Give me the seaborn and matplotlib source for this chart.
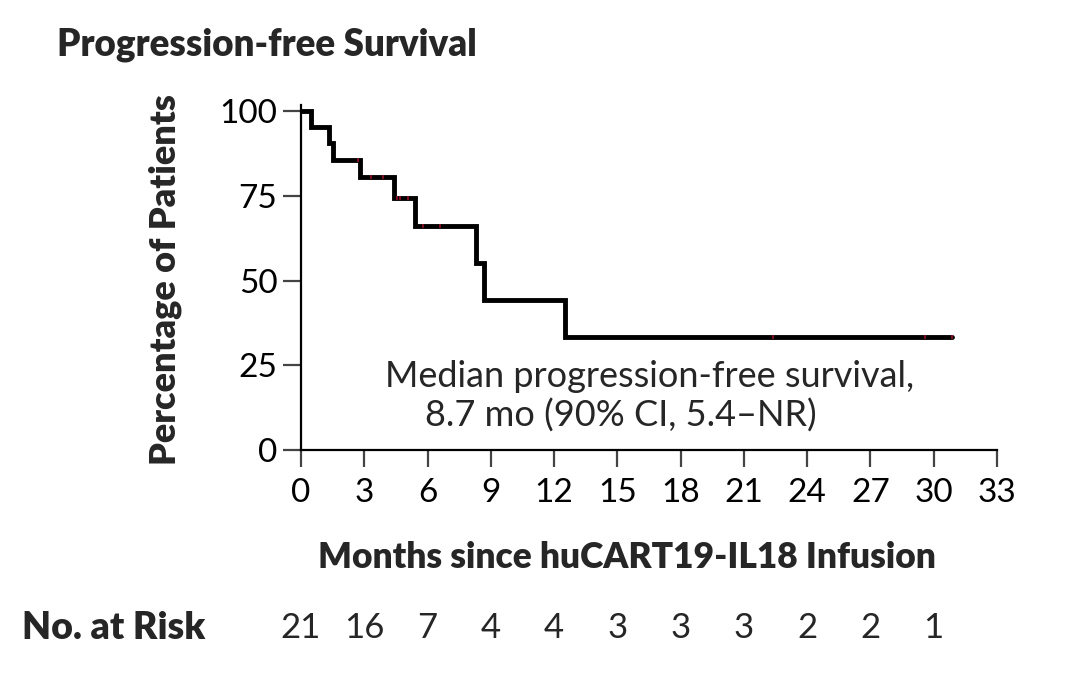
import matplotlib
matplotlib.use("Agg")
import matplotlib.pyplot as plt
import seaborn as sns
import pandas as pd
import numpy as np

# Kaplan-Meier steps
step_months = [0, 0.47, 1.33, 1.5, 2.8, 4.42, 5.4, 8.3, 8.68, 12.5, 30.85]
step_pct = [100, 95.2, 90.5, 85.7, 80.5, 74.5, 66.2, 55.2, 44.2, 33.3, 33.3]

# censored observations (months)
censor_months = [2.7, 3.3, 3.9, 4.53, 4.69, 5.09, 5.8, 6.59, 22.36, 29.6, 30.85]

x_ticks = [0, 3, 6, 9, 12, 15, 18, 21, 24, 27, 30, 33]
y_ticks = [0, 25, 50, 75, 100]
risk_months = [0, 3, 6, 9, 12, 15, 18, 21, 24, 27, 30]
at_risk = [21, 16, 7, 4, 4, 3, 3, 3, 2, 2, 1]

sns.set_theme(style="white")
plt.rcParams["font.family"] = ["Lato", "DejaVu Sans"]

df = pd.DataFrame({"month": step_months, "pct": step_pct})
# survival value at each censor time
cens_pct = [step_pct[np.searchsorted(step_months, c, side="right") - 1] for c in censor_months]
cens = pd.DataFrame({"month": censor_months, "pct": cens_pct})

fig = plt.figure(figsize=(10.8, 6.93), dpi=100)
ax = fig.add_axes([301 / 1080, 1 - 450 / 693, 696 / 1080, 345 / 693])

sns.lineplot(data=df, x="month", y="pct", drawstyle="steps-post", color="black",
             linewidth=3.5, ax=ax, solid_joinstyle="miter")
sns.scatterplot(data=cens, x="month", y="pct", marker="|", color="#a0102a", s=12,
                linewidth=1.1, ax=ax, zorder=5)

ax.set_xlim(0, 33)
ax.set_ylim(0, 101.8)
ax.set_xticks(x_ticks)
ax.set_yticks(y_ticks)
ax.set_xlabel("")
ax.set_ylabel("")
for s in ["top", "right"]:
    ax.spines[s].set_visible(False)
for s in ["left", "bottom"]:
    ax.spines[s].set_color("black")
    ax.spines[s].set_linewidth(1.6)
ax.tick_params(axis="x", direction="out", length=12, width=1.6, color="#444444",
               pad=8, labelsize=24, labelcolor="black", bottom=True)
ax.tick_params(axis="y", direction="out", length=13, width=1.6, color="#444444",
               pad=4, labelsize=24, labelcolor="black", left=True)

ax.text(4.0, 21.8, "Median progression-free survival,", fontsize=26, ha="left", va="center")
ax.text(5.9, 10.3, "8.7 mo (90% CI, 5.4\u2013NR)", fontsize=26, ha="left", va="center")

fig.text(57 / 1080, 1 - 45 / 693, "Progression-free Survival", fontsize=26.5,
         fontweight="heavy", ha="left", va="center")
fig.text(165 / 1080, 1 - 280 / 693, "Percentage of Patients", fontsize=26,
         fontweight="heavy", rotation=90, ha="center", va="center")
fig.text(627 / 1080, 1 - 558 / 693, "Months since huCART19-IL18 Infusion", fontsize=25.5,
         fontweight="heavy", ha="center", va="center")
fig.text(22 / 1080, 1 - 628 / 693, "No. at Risk", fontsize=27, fontweight="heavy",
         ha="left", va="center")

trans = matplotlib.transforms.blended_transform_factory(ax.transData, fig.transFigure)
for m, n in zip(risk_months, at_risk):
    ax.text(m, 1 - 628 / 693, str(n), fontsize=25, ha="center", va="center",
            transform=trans, clip_on=False)

plt.savefig("out.png", dpi=100)
